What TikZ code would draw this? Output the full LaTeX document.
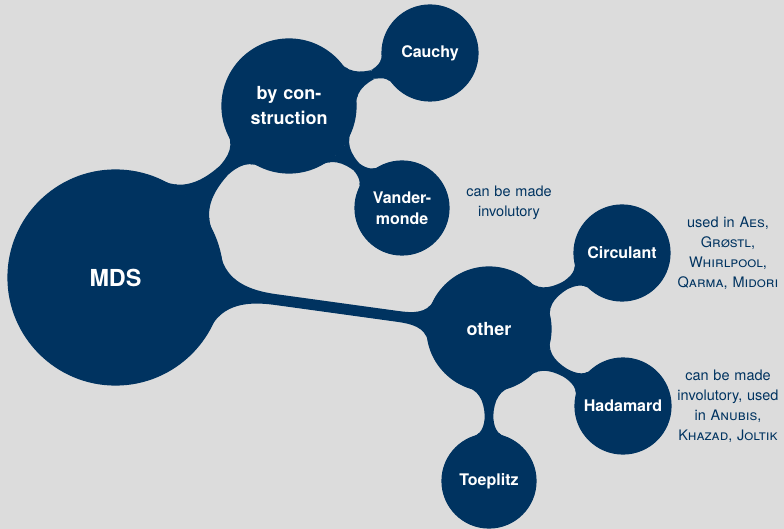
\documentclass[tikz,border=0pt]{standalone}
\usepackage{fontspec}
\setmainfont{TeX Gyre Heros}
\usetikzlibrary{mindmap}
\definecolor{navy}{RGB}{0,51,96}
\definecolor{bgc}{RGB}{220,220,220}
\begin{document}
\begin{tikzpicture}[x=1pt,y=-1pt, mindmap, concept color=navy,
  rootc/.style={concept, text=white, inner sep=0pt, text width=90pt, align=center,
    minimum size=215pt, font=\fontsize{23.4}{28}\selectfont\bfseries},
  lvla/.style={concept, text=white, inner sep=0pt, text width=80pt, align=center,
    font=\fontsize{18}{25}\selectfont\bfseries},
  lvlb/.style={concept, text=white, inner sep=0pt, text width=80pt, align=center,
    minimum size=96pt, font=\fontsize{16}{21}\selectfont\bfseries},
  note/.style={text=navy, align=center, text width=120pt, inner sep=0pt,
    font=\fontsize{14.5}{20}\selectfont},
  conn/.style={circle connection bar switch color=from (navy) to (navy)}]
\fill[bgc] (0,0) rectangle (784,529);
\useasboundingbox (0,0) rectangle (784,529);
\node[rootc] (mds) at (115.5,277.5) {MDS};
\node[lvla, minimum size=134pt] (bycon) at (289,106) {by con-\\struction};
\node[lvla, minimum size=124pt] (other) at (489,329) {other};
\node[lvlb] (cauchy) at (430,53) {Cauchy};
\node[lvlb, minimum size=94pt] (vander) at (402,208) {Vander-\\monde};
\node[lvlb] (circ) at (622,253) {Circulant};
\node[lvlb] (hada) at (623,406) {Hadamard};
\node[lvlb, minimum size=94pt] (toep) at (489,481) {Toeplitz};
\path[line width=10.5pt] (mds) to[conn] (bycon);
\path[line width=10.5pt] (mds) to[conn] (other);
\path[line width=8pt] (bycon) to[conn] (cauchy);
\path[line width=8pt] (bycon) to[conn] (vander);
\path[line width=8pt] (other) to[conn] (circ);
\path[line width=8pt] (other) to[conn] (hada);
\path[line width=8pt] (other) to[conn] (toep);
\node[note] (n1) at (509,203) {can be made\\involutory};
\node[note] (n2) at (728,253) {used in \textsc{Aes},\\\textsc{Grøstl},\\\textsc{Whirlpool},\\\textsc{Qarma}, \textsc{Midori}};
\node[note] (n3) at (728,406) {can be made\\involutory, used\\in \textsc{Anubis},\\\textsc{Khazad}, \textsc{Joltik}};
\end{tikzpicture}
\end{document}
